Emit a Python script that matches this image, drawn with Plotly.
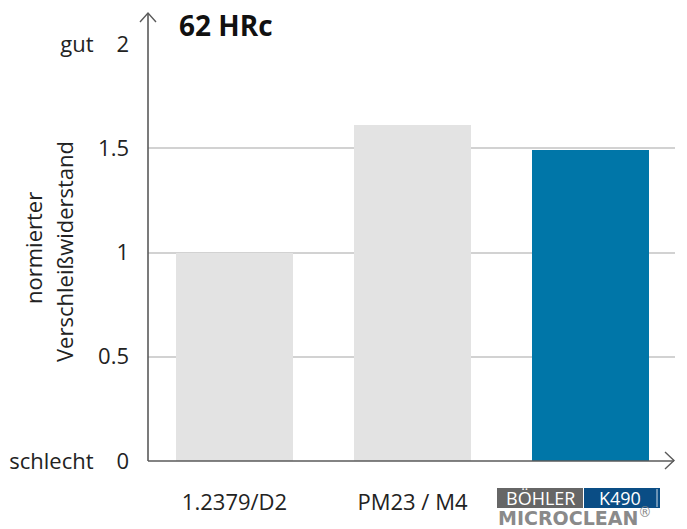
import plotly.graph_objects as go

# ---- data ----
categories = ["1.2379/D2", "PM23 / M4", "BÖHLER K490 MICROCLEAN"]
values = [1.0, 1.61, 1.49]
bar_colors = ["#e3e3e3", "#e3e3e3", "#0076a8"]
tick_labels_x = ["1.2379/D2", "PM23 / M4", " "]
y_tickvals = [0, 0.5, 1, 1.5, 2]
y_ticktext = ["schlecht\u00a0\u00a0\u00a0 0", "0.5", "1", "1.5", "gut\u00a0\u00a0\u00a0 2"]
title_text = "62 HRc"
y_title_lines = ["normierter", "Verschleißwiderstand"]

# page has an 8px body margin -> figure is drawn offset by 8px
OFF = 8
W, H = 687 - OFF, 529 - OFF
ML, MR, MT, MB = 148 - OFF, 12, 44 - OFF, 68
PW, PH = W - ML - MR, H - MT - MB
FONT = "Open Sans"
TXT = "#222222"
AX = "#5a5a5a"


def px(p):  # page pixel x -> paper
    return (p - OFF - ML) / PW


def py(p):  # page pixel y -> paper
    return (H - MB - (p - OFF)) / PH


fig = go.Figure()
fig.add_trace(go.Bar(
    x=list(range(len(categories))), y=values,
    marker=dict(color=bar_colors, line=dict(width=0)),
    width=0.657, hoverinfo="skip", showlegend=False,
))

shapes = []
# axes lines with arrows
shapes.append(dict(type="line", xref="paper", yref="paper", x0=0, x1=0, y0=0, y1=py(13),
                   line=dict(color=AX, width=1.6)))
shapes.append(dict(type="path", xref="paper", yref="paper",
                   path=f"M {px(140)} {py(22)} L {px(148)} {py(13)} L {px(156)} {py(22)}",
                   line=dict(color=AX, width=1.4)))
shapes.append(dict(type="line", xref="paper", yref="paper", x0=0, x1=px(674), y0=0, y1=0,
                   line=dict(color=AX, width=1.6)))
shapes.append(dict(type="path", xref="paper", yref="paper",
                   path=f"M {px(665)} {py(452)} L {px(674)} {py(460.5)} L {px(665)} {py(469)}",
                   line=dict(color=AX, width=1.4)))
# logo boxes
shapes.append(dict(type="rect", xref="paper", yref="paper", x0=px(497), x1=px(583), y0=py(488), y1=py(508),
                   fillcolor="#666666", line=dict(width=0), layer="above"))
shapes.append(dict(type="rect", xref="paper", yref="paper", x0=px(584), x1=px(660), y0=py(488), y1=py(508),
                   fillcolor="#0a4d85", line=dict(width=0), layer="above"))
shapes.append(dict(type="line", xref="paper", yref="paper", x0=px(657), x1=px(657), y0=py(489), y1=py(507),
                   line=dict(color="#ffffff", width=0.8), layer="above"))

annotations = [
    dict(text=f"<b>{title_text}</b>", xref="paper", yref="paper", x=px(177), y=py(25),
         xanchor="left", yanchor="middle", showarrow=False,
         font=dict(family=FONT, size=28, color="#111111")),
    dict(text=y_title_lines[0], xref="paper", yref="paper", x=px(33), y=py(248),
         xanchor="center", yanchor="middle", textangle=-90, showarrow=False,
         font=dict(family=FONT, size=22, color=TXT)),
    dict(text=y_title_lines[1], xref="paper", yref="paper", x=px(64), y=py(252),
         xanchor="center", yanchor="middle", textangle=-90, showarrow=False,
         font=dict(family=FONT, size=22, color=TXT)),
    dict(text="BÖHLER", xref="paper", yref="paper", x=px(540), y=py(498.5),
         xanchor="center", yanchor="middle", showarrow=False,
         font=dict(family=FONT, size=18, color="#ffffff")),
    dict(text="K490", xref="paper", yref="paper", x=px(620), y=py(498.5),
         xanchor="center", yanchor="middle", showarrow=False,
         font=dict(family=FONT, size=18, color="#ffffff")),
    dict(text="<b>MICROCLEAN</b><sup>®</sup>", xref="paper", yref="paper", x=px(496), y=py(517),
         xanchor="left", yanchor="middle", showarrow=False,
         font=dict(family="DejaVu Sans", size=19, color="#8a8a8a")),
]

fig.update_layout(
    width=W, height=H,
    margin=dict(l=ML, r=MR, t=MT, b=MB, autoexpand=False),
    paper_bgcolor="white", plot_bgcolor="white",
    font=dict(family=FONT, size=22, color=TXT),
    shapes=shapes, annotations=annotations,
    xaxis=dict(range=[-0.486, 2.475], tickvals=list(range(len(categories))), ticktext=tick_labels_x,
               showgrid=False, zeroline=False, showline=False, ticks="", ticklabelstandoff=26,
               tickfont=dict(family=FONT, size=22, color=TXT), fixedrange=True),
    yaxis=dict(range=[0, 2], tickvals=y_tickvals, ticktext=y_ticktext,
               showgrid=True, gridcolor="#d2d2d2", gridwidth=1.5, zeroline=False, showline=False,
               ticks="", ticklabelstandoff=18,
               tickfont=dict(family=FONT, size=22, color=TXT), fixedrange=True),
    bargap=0,
)

fig.write_html("out.html")
